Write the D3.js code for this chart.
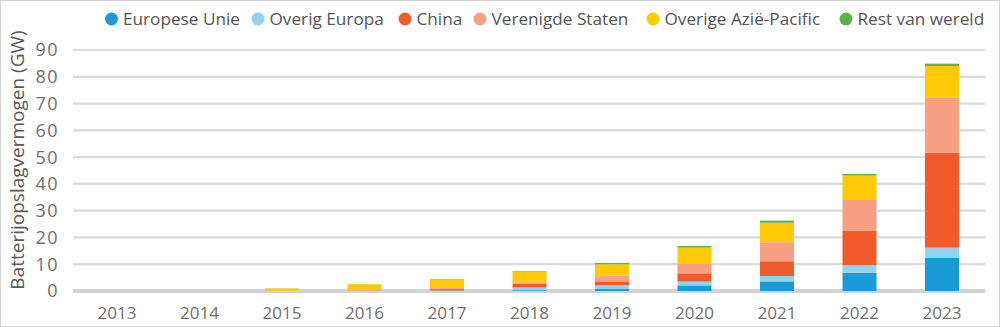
<!DOCTYPE html>
<html><head><meta charset="utf-8">
<script src="https://cdn.jsdelivr.net/npm/d3@7"></script>
<style>
html,body{margin:0;padding:0;background:#fff;}
svg{display:block;font-family:"Open Sans",Lato,sans-serif;}
</style></head>
<body>
<svg id="chart" width="1000" height="327"></svg>
<script>
const years = ["2013","2014","2015","2016","2017","2018","2019","2020","2021","2022","2023"];
const seriesNames = ["Europese Unie","Overig Europa","China","Verenigde Staten","Overige Azië-Pacific","Rest van wereld"];
const colors = ["#1a9bd7","#90d4f1","#f15a2b","#f7a084","#ffc906","#5cb247"];
const europeseUnie      = [0, 0, 0,   0,   0.1, 0.3, 0.9, 2.1, 3.6, 6.8, 12.5];
const overigEuropa      = [0, 0, 0,   0.05,0.1, 1.0, 1.2, 1.4, 2.0, 2.8, 3.7];
const china             = [0, 0, 0,   0.1, 0.5, 1.3, 1.5, 3.1, 5.5, 12.8, 35.5];
const verenigdeStaten   = [0, 0, 0.05,0.15,0.4, 0.6, 2.1, 3.5, 7.1, 11.6, 20.5];
const overigeAziePacific= [0, 0, 0.9, 2.2, 3.3, 4.0, 4.3, 6.1, 7.3, 9.1, 11.8];
const restVanWereld     = [0, 0, 0.05,0.05,0.1, 0.2, 0.5, 0.6, 0.8, 0.6, 0.9];
const yTicks = [0,10,20,30,40,50,60,70,80,90];
const yTitle = "Batterijopslagvermogen (GW)";

const seriesValues = [europeseUnie, overigEuropa, china, verenigdeStaten, overigeAziePacific, restVanWereld];
const table = years.map((y,i)=>{const o={year:y}; seriesNames.forEach((s,j)=>o[s]=seriesValues[j][i]); return o;});

const svg = d3.select("#chart");
svg.append("rect").attr("x",0.5).attr("y",0.5).attr("width",999).attr("height",326)
  .attr("fill","none").attr("stroke","#d4d4d4");

const x = d3.scalePoint().domain(years).range([75.75, 983.25]).padding(0.5);
const y = d3.scaleLinear().domain([0,90]).range([291,50]);
const barW = 34;

// gridlines
svg.append("g").selectAll("line").data(yTicks).join("line")
  .attr("x1",73).attr("x2",985)
  .attr("y1",d=>y(d)).attr("y2",d=>y(d))
  .attr("stroke",d=>d===0?"#d2d2d2":"#dadada")
  .attr("stroke-width",d=>d===0?4:2.2);

// y tick labels
svg.append("g").selectAll("text").data(yTicks).join("text")
  .attr("x",59).attr("y",d=>y(d)).attr("dy","0.36em")
  .attr("text-anchor","end").attr("fill","#707070").attr("font-size",18)
  .attr("letter-spacing",1.5)
  .text(d=>d);

// x labels
svg.append("g").selectAll("text").data(years).join("text")
  .attr("x",d=>x(d)).attr("y",313).attr("dy","0.36em")
  .attr("text-anchor","middle").attr("fill","#707070").attr("font-size",17)
  .text(d=>d);

// y title
svg.append("text").attr("transform","translate(24,160) rotate(-90)")
  .attr("text-anchor","middle").attr("fill","#5a5a5a").attr("font-size",19)
  .text(yTitle);

// bars
const stack = d3.stack().keys(seriesNames)(table);
svg.append("g").selectAll("g").data(stack).join("g")
  .attr("fill",(d,i)=>colors[i])
  .selectAll("rect").data(d=>d).join("rect")
  .attr("x",d=>x(d.data.year)-barW/2).attr("width",barW)
  .attr("y",d=>y(d[1])).attr("height",d=>Math.max(0,y(d[0])-y(d[1])));

// legend
const legendX = [111.5,258,405,480,653,846];
const lg = svg.append("g").selectAll("g").data(seriesNames).join("g")
  .attr("transform",(d,i)=>`translate(${legendX[i]},19)`);
lg.append("circle").attr("r",6.5).attr("fill",(d,i)=>colors[i]);
lg.append("text").attr("x",11.5).attr("dy","0.35em").attr("font-size",17.2).attr("fill","#555")
  .text(d=>d);
</script>
</body></html>
